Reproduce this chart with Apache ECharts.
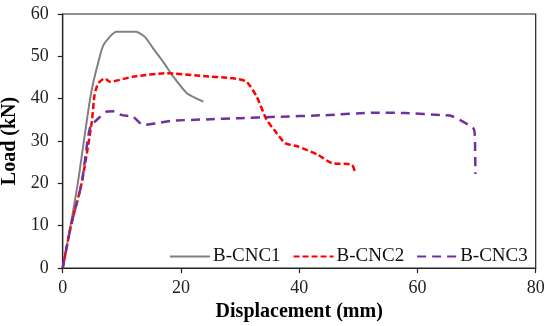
<!DOCTYPE html>
<html>
<head>
<meta charset="utf-8">
<script src="https://cdn.jsdelivr.net/npm/echarts@6/dist/echarts.min.js"></script>
<style>html,body{margin:0;padding:0;background:#fff}#c{width:550px;height:326px}</style>
</head>
<body>
<div id="c"></div>
<script>
var seriesNames = ['B-CNC1', 'B-CNC2', 'B-CNC3'];
var cnc1X = [0, 1.2, 2.5, 3.6, 4.6, 5.2, 6.0, 6.9, 9.1, 12.4, 13.9, 15.3, 17.0, 18.7, 21.0, 23.8];
var cnc1Y = [0, 9, 19.5, 30.2, 39.7, 44, 48.5, 52.7, 55.8, 55.8, 54.6, 51.9, 48.7, 45.2, 41.3, 39.3];
var cnc2X = [0, 1.4, 3.2, 4.9, 5.4, 6.0, 7.1, 8.0, 11.9, 17.6, 23.2, 28.8, 31.1, 32.8, 34.5, 35.9, 37.6, 39.8, 43.2, 45.5, 48.9, 49.4];
var cnc2Y = [0, 10, 20, 34.3, 41, 43.6, 44.8, 44, 45.2, 46, 45.4, 44.8, 44, 40.5, 35, 32.4, 29.5, 28.7, 26.7, 24.8, 24.4, 22.8];
var cnc3X = [0, 1.4, 3.2, 4.2, 4.7, 6.3, 7.4, 8.8, 10, 11.9, 13.6, 15.9, 18.7, 24.3, 30, 35.9, 44.3, 52.8, 58, 64.1, 65.8, 69.4, 69.7, 69.8];
var cnc3Y = [0, 10, 20, 30, 33.4, 35.7, 36.9, 37, 36.1, 35.7, 33.8, 34.2, 34.8, 35.1, 35.4, 35.7, 36.1, 36.7, 36.6, 36.1, 35.9, 33.1, 31.4, 22.2];
var xTicks = [0, 20, 40, 60, 80];
var yTicks = [0, 10, 20, 30, 40, 50, 60];

function zip(xs, ys) { return xs.map(function (x, i) { return [x, ys[i]]; }); }

var chart = echarts.init(document.getElementById('c'), null, {renderer: 'canvas'});
var serif = 'Liberation Serif, Times New Roman, serif';
chart.setOption({
  animation: false,
  backgroundColor: '#fff',
  grid: {left: 62.7, right: 14.3, top: 14, bottom: 58, show: true, borderColor: '#222', borderWidth: 1.2,
         containLabel: false, outerBoundsMode: 'none'},
  legend: {
    left: 164, top: 242, itemWidth: 40, itemHeight: 14, itemGap: 12,
    itemStyle: {opacity: 0},
    textStyle: {fontFamily: serif, fontSize: 19, color: '#111', padding: [0, 0, 0, -2]},
    data: seriesNames
  },
  xAxis: {
    type: 'value', min: xTicks[0], max: xTicks[xTicks.length - 1], interval: 20,
    name: 'Displacement (mm)', nameLocation: 'middle', nameGap: 33,
    nameTextStyle: {fontFamily: serif, fontSize: 20, fontWeight: 'bold', color: '#000'},
    axisLine: {lineStyle: {color: '#222', width: 1.2}},
    axisTick: {show: true, inside: false, length: 5, lineStyle: {color: '#222', width: 1.2}},
    axisLabel: {fontFamily: serif, fontSize: 18, color: '#222', margin: 11},
    splitLine: {show: false}
  },
  yAxis: {
    type: 'value', min: yTicks[0], max: yTicks[yTicks.length - 1], interval: 10,
    name: 'Load (kN)', nameLocation: 'middle', nameGap: 41,
    nameTextStyle: {fontFamily: serif, fontSize: 20, fontWeight: 'bold', color: '#000'},
    axisLine: {show: true, lineStyle: {color: '#222', width: 1.2}},
    axisTick: {show: true, inside: false, length: 5, lineStyle: {color: '#222', width: 1.2}},
    axisLabel: {fontFamily: serif, fontSize: 18, color: '#222', margin: 14},
    splitLine: {show: false}
  },
  series: [
    {name: seriesNames[0], type: 'line', data: zip(cnc1X, cnc1Y), symbol: 'none', smooth: 0.2,
     lineStyle: {color: '#808080', width: 2}, itemStyle: {color: '#808080'}},
    {name: seriesNames[1], type: 'line', data: zip(cnc2X, cnc2Y), symbol: 'none', smooth: 0.2,
     lineStyle: {color: '#ff0000', width: 2.5, type: [6, 3]}, itemStyle: {color: '#ff0000'}},
    {name: seriesNames[2], type: 'line', data: zip(cnc3X, cnc3Y), symbol: 'none', smooth: 0.2,
     lineStyle: {color: '#7030a0', width: 2.5, type: [9, 6]}, itemStyle: {color: '#7030a0'}}
  ]
});
</script>
</body>
</html>
